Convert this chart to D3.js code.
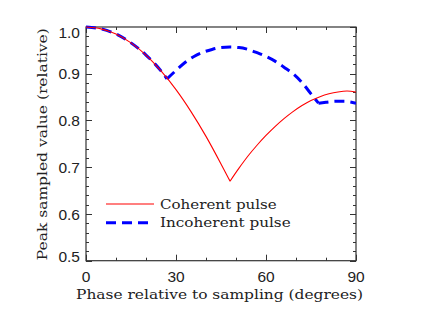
<!DOCTYPE html>
<html><head><meta charset="utf-8">
<script src="https://cdn.jsdelivr.net/npm/d3@7"></script>
<style>body{margin:0;background:#fff}svg{display:block}</style>
</head><body>
<script>
// ---- data ----
const coherentPhase = [0,5,10,15,20,25,30,35,40,45,48,51,54,57,60,63,66,69,72,75,78,81,84,87,90];
const coherentValue = [1.000,0.996,0.985,0.966,0.940,0.906,0.866,0.819,0.766,0.707,0.670,0.698,0.724,0.747,0.768,0.787,0.804,0.819,0.832,0.843,0.851,0.857,0.861,0.863,0.861];
const incoherentPhase = [0,5,10,15,20,25,27,30,33,36,39,42,45,48,51,54,57,60,63,66,69,72,75,77.5,80,83,86,90];
const incoherentValue = [1.000,0.996,0.985,0.966,0.940,0.906,0.889,0.907,0.924,0.937,0.946,0.952,0.956,0.957,0.956,0.952,0.945,0.937,0.927,0.914,0.900,0.881,0.857,0.837,0.839,0.841,0.841,0.837];
const xTicks = [0,30,60,90];
const xTickLabels = ["0","30","60","90"];
const yTicks = [0.5,0.6,0.7,0.8,0.9,1.0];
const yTickLabels = ["0.5","0.6","0.7","0.8","0.9","1.0"];
const seriesNames = ["Coherent pulse","Incoherent pulse"];
const seriesColors = ["#ff0000","#0000ff"];
const xTitle = "Phase relative to sampling (degrees)";
const yTitle = "Peak sampled value (relative)";

const W = 441, H = 315;
const L = 86, R = 356, T = 27, B = 260.7;
const svg = d3.select("body").append("svg").attr("width", W).attr("height", H);
const x = d3.scaleLinear().domain([0,90]).range([L,R]);
const y = d3.scaleLinear().domain([0.5,1.0]).range([B,T]);

const axisColor = "#333";
// ticks inward on all sides
const xMinor = d3.range(0, 90.001, 10);
const yMinor = d3.range(0.5, 1.0001, 0.02);
const tg = svg.append("g").attr("stroke", axisColor).attr("stroke-width", 1);
xMinor.forEach(v => {
  const major = xTicks.some(t => Math.abs(t - v) < 1e-6);
  const len = major ? 6 : 3;
  const px = Math.round(x(v)) + 0.5;
  tg.append("line").attr("x1", px).attr("x2", px).attr("y1", B).attr("y2", B - len);
  tg.append("line").attr("x1", px).attr("x2", px).attr("y1", T).attr("y2", T + len);
});
yMinor.forEach(v => {
  const major = yTicks.some(t => Math.abs(t - v) < 1e-6);
  const len = major ? 6 : 3;
  const py = Math.round(y(v)) + 0.5;
  tg.append("line").attr("x1", L).attr("x2", L + len).attr("y1", py).attr("y2", py);
  tg.append("line").attr("x1", R).attr("x2", R - len).attr("y1", py).attr("y2", py);
});

// frame
svg.append("rect").attr("x", L).attr("y", T).attr("width", R - L).attr("height", B - T)
  .attr("fill", "none").attr("stroke", axisColor).attr("stroke-width", 1.2);

// tick labels
const tickFont = "'Liberation Sans', Arial, sans-serif";
xTicks.forEach((t, i) => {
  svg.append("text").attr("x", x(t)).attr("y", 281.5).attr("text-anchor", "middle")
    .attr("font-family", tickFont).attr("font-size", 15.5).attr("fill", "#222").text(xTickLabels[i]);
});
yTicks.forEach((t, i) => {
  let dy = 5.6;
  if (i === yTicks.length - 1) dy += 5;
  if (i === 0) dy -= 4.5;
  svg.append("text").attr("x", 80).attr("y", y(t) + dy).attr("text-anchor", "end")
    .attr("font-family", tickFont).attr("font-size", 15.5).attr("fill", "#222").text(yTickLabels[i]);
});

// titles
const titleFont = "'DejaVu Serif', serif";
svg.append("text").attr("x", 219.5).attr("y", 299).attr("text-anchor", "middle")
  .attr("font-family", titleFont).attr("font-size", 13.5).attr("fill", "#222")
  .attr("textLength", 287).attr("lengthAdjust", "spacingAndGlyphs").text(xTitle);
svg.append("text").attr("transform", "translate(46.7,144.2) rotate(-90)").attr("text-anchor", "middle")
  .attr("font-family", titleFont).attr("font-size", 13.5).attr("fill", "#222")
  .attr("textLength", 232).attr("lengthAdjust", "spacingAndGlyphs").text(yTitle);

// split into branches at local minima (cusps) so the kinks stay sharp
function branches(px, pv) {
  const out = []; let cur = [];
  for (let i = 0; i < px.length; i++) {
    cur.push([px[i], pv[i]]);
    if (i > 0 && i < px.length - 1 && pv[i] < pv[i-1] && pv[i] < pv[i+1]) {
      out.push(cur); cur = [[px[i], pv[i]]];
    }
  }
  out.push(cur);
  return out;
}
const line = d3.line().x(d => x(d[0])).y(d => y(d[1])).curve(d3.curveMonotoneX);
svg.append("clipPath").attr("id", "c").append("rect")
  .attr("x", L).attr("y", T - 2).attr("width", R - L).attr("height", B - T + 2);

const cPath = branches(coherentPhase, coherentValue).map(b => line(b)).join("");
const iPath = branches(incoherentPhase, incoherentValue).map(b => line(b)).join("");
svg.append("path").attr("d", iPath).attr("fill", "none").attr("stroke", seriesColors[1])
  .attr("stroke-width", 3).attr("stroke-dasharray", "10,6").attr("clip-path", "url(#c)");
svg.append("path").attr("d", cPath).attr("fill", "none").attr("stroke", seriesColors[0])
  .attr("stroke-width", 1.1).attr("clip-path", "url(#c)");

// legend
const legY = [204, 222.7];
svg.append("line").attr("x1", 106).attr("x2", 154).attr("y1", legY[0]).attr("y2", legY[0])
  .attr("stroke", seriesColors[0]).attr("stroke-width", 1.1);
svg.append("line").attr("x1", 106).attr("x2", 154).attr("y1", legY[1]).attr("y2", legY[1])
  .attr("stroke", seriesColors[1]).attr("stroke-width", 3).attr("stroke-dasharray", "10,6");
const legW = [116.7, 130.7];
seriesNames.forEach((n, i) => {
  svg.append("text").attr("x", 160).attr("y", legY[i] + 4.5).attr("font-family", titleFont)
    .attr("font-size", 13.5).attr("fill", "#222")
    .attr("textLength", legW[i]).attr("lengthAdjust", "spacingAndGlyphs").text(n);
});
</script>
</body></html>
